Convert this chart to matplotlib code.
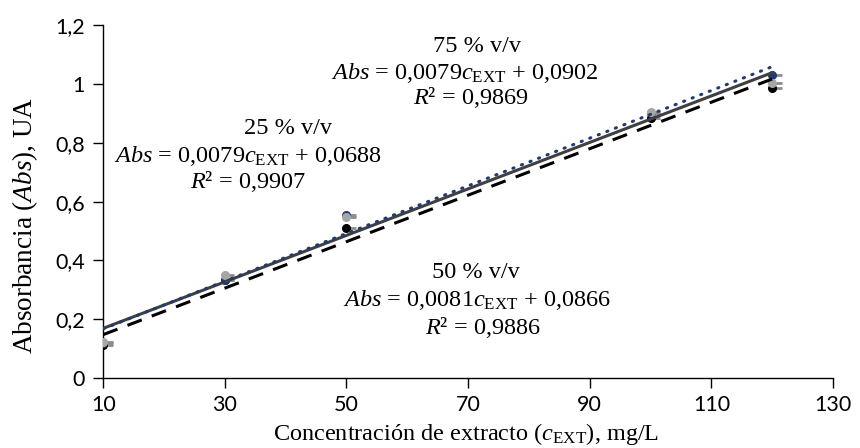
import matplotlib
matplotlib.use("Agg")
import matplotlib.pyplot as plt
import numpy as np

plt.rcParams['mathtext.fontset'] = 'custom'
plt.rcParams['mathtext.rm'] = 'Liberation Serif'
plt.rcParams['mathtext.it'] = 'Liberation Serif:italic'
plt.rcParams['mathtext.bf'] = 'Liberation Serif:bold'

# Data
conc = [10, 30, 50, 100, 120]
abs_25 = [0.112, 0.335, 0.509, 0.885, 0.985]
abs_50 = [0.118, 0.333, 0.553, 0.900, 1.030]
abs_75 = [0.123, 0.350, 0.546, 0.905, 1.002]
# Trend line coefficients (slope, intercept)
fit_25 = (0.0079, 0.0688)
fit_50 = (0.0081, 0.0866)
fit_75 = (0.0079, 0.0902)
xticks = [10, 30, 50, 70, 90, 110, 130]
yticks = [0, 0.2, 0.4, 0.6, 0.8, 1.0, 1.2]
ytick_labels = ["0", "0,2", "0,4", "0,6", "0,8", "1", "1,2"]

fig = plt.figure(figsize=(8.6, 4.48), dpi=100)
ax = fig.add_axes([0.120, 0.156, 0.8486, 0.788])

x = np.array(conc, dtype=float)
xl = np.array([min(conc), max(conc)], dtype=float)

# error-bar-like gray caps to the right of points
for ys in (abs_25, abs_50, abs_75):
    ax.plot(x + 0.9, ys, linestyle='none', marker='_', markersize=6,
            markeredgewidth=2, color='#8c8c8c', zorder=2)

ax.plot(x, abs_25, 'o', color='black', markersize=5.5, zorder=3)
ax.plot(x, abs_50, 'o', color='#1f3b73', markersize=5.5, zorder=3)
ax.plot(x, abs_75, 'o', color='#a6a6a6', markersize=5.5, zorder=4)

ax.plot(xl, fit_25[0] * xl + fit_25[1], color='black', lw=2.2,
        dashes=(5, 3.5), zorder=5)
ax.plot(xl, fit_75[0] * xl + fit_75[1], color='#404040', lw=2.2, zorder=5)
ax.plot(xl, fit_50[0] * xl + fit_50[1], color='#1f3b73', lw=2.2,
        dashes=(0.4, 2.6), dash_capstyle='round', zorder=6)

ax.set_xlim(10, 130)
ax.set_ylim(0, 1.2)
ax.set_xticks(xticks)
ax.set_yticks(yticks)
ax.set_yticklabels(ytick_labels)
for s in ('top', 'right'):
    ax.spines[s].set_visible(False)
for s in ('left', 'bottom'):
    ax.spines[s].set_linewidth(1.0)
ax.tick_params(direction='out', length=7, width=1.0, labelsize=15.5)
for lab in ax.get_xticklabels() + ax.get_yticklabels():
    lab.set_family('Lato')
ax.tick_params(axis='x', pad=5)
ax.tick_params(axis='y', pad=6)

serif = 'Liberation Serif'
ax.set_xlabel(r"Concentración de extracto ($c_{\mathrm{EXT}}$), mg/L",
              family=serif, fontsize=17.5, va='center')
ax.xaxis.set_label_coords((466 - 103.3) / 729.8, (378 - 434) / 353)
ax.set_ylabel(r"Absorbancia ($Abs$), UA", family=serif, fontsize=19.5,
              va='center', ha='center')
ax.yaxis.set_label_coords((25 - 103.3) / 729.8, (378 - 225) / 353)

fs = 17.5
def put(px, py, s):
    fig.text(px / 860, 1 - py / 448, s, family=serif, fontsize=fs,
             ha='center', va='center')

put(477, 47, "75 % v/v")
put(465, 73, r"$Abs$ = 0,0079$c_{\mathrm{EXT}}$ + 0,0902")
put(471, 98, r"$R$² = 0,9869")
put(288, 128, "25 % v/v")
put(248, 156, r"$Abs$ = 0,0079$c_{\mathrm{EXT}}$ + 0,0688")
put(248, 182, r"$R$² = 0,9907")
put(476, 272, "50 % v/v")
put(477, 300, r"$Abs$ = 0,0081$c_{\mathrm{EXT}}$ + 0,0866")
put(483, 327, r"$R$² = 0,9886")

fig.savefig("out.png", dpi=100)
